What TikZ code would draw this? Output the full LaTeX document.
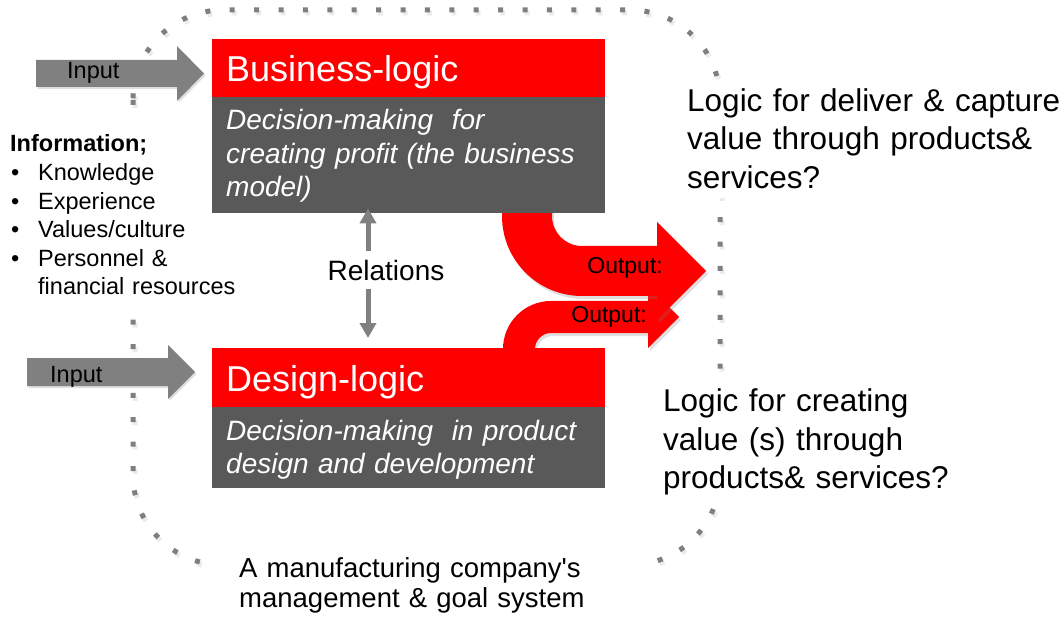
\documentclass[tikz,border=0pt]{standalone}
\usepackage{fontspec}
\setmainfont{Liberation Sans}
\usetikzlibrary{arrows.meta,shadows}
\definecolor{bizred}{HTML}{FF0000}
\definecolor{bodygray}{HTML}{595959}
\definecolor{arrowgray}{HTML}{808080}
\definecolor{dotgray}{HTML}{7F7F7F}
\tikzset{
  headbox/.style={fill=bizred, text=white, font=\fontsize{36}{40}\selectfont,
    minimum width=393pt, text width=365pt, inner xsep=14pt, align=left,
    text height=27pt, text depth=0pt, anchor=north west},
  bodybox/.style={fill=bodygray, minimum width=393pt, inner sep=0pt, anchor=north west},
  bodytext/.style={text=white, font=\fontsize{28}{33.5}\selectfont\itshape,
    inner sep=0pt, text width=375pt, align=left, anchor=base west},
  inarrow/.style={fill=arrowgray, drop shadow={opacity=0.25, shadow xshift=1.5pt, shadow yshift=-2pt}},
  outarrow/.style={fill=bizred, drop shadow={opacity=0.25, shadow xshift=2pt, shadow yshift=-3pt}},
  smalltext/.style={font=\fontsize{23.5}{28.6}\selectfont, inner sep=0pt},
  bigtext/.style={font=\fontsize{31.5}{38.4}\selectfont, fill=white, align=left, anchor=base west},
  dotline/.style={draw=dotgray, line width=5pt, dash pattern=on 5pt off 19.4pt, rounded corners=90pt},
  relarrow/.style={draw=arrowgray, line width=5pt, {Triangle[width=16pt,length=15pt]}-{Triangle[width=16pt,length=15pt]}}
}
\begin{document}
\begin{tikzpicture}[x=1pt,y=-1pt]
\useasboundingbox (0,0) rectangle (1060,620);
% dotted boundary (shadow + dots)
\draw[dotline, draw=black!8, transform canvas={shift={(2pt,-3pt)}}] (133,10) rectangle (720,565);
\draw[dotline] (133,10) rectangle (720,565);
% information block
\node[smalltext, fill=white, anchor=base west, inner xsep=2pt, inner ysep=14pt, text width=240pt, align=left] (info) at (8,152)
  {\textbf{Information;}\\
   \makebox[28pt][l]{\hspace{1pt}•}Knowledge\\
   \makebox[28pt][l]{\hspace{1pt}•}Experience\\
   \makebox[28pt][l]{\hspace{1pt}•}Values/culture\\
   \makebox[28pt][l]{\hspace{1pt}•}Personnel \&\\
   \hspace*{28pt}financial resources};
% input arrows
\fill[inarrow] (36,60) -- (177,60) -- (177,46) -- (204,73.5) -- (177,101) -- (177,87) -- (36,87) -- cycle;
\fill[inarrow] (27,358) -- (168,358) -- (168,345) -- (195,372) -- (168,399) -- (168,386) -- (27,386) -- cycle;
\node[smalltext, anchor=base west] (in1) at (67,79) {Input};
\node[smalltext, anchor=base west] (in2) at (50,382) {Input};
% output arrows
\fill[outarrow] (503,352) -- (503,349) .. controls (503,322.5) and (524.5,301) .. (551,301) -- (648,301) -- (648,286) -- (679,317) -- (648,348) -- (648,333) -- (551,333) .. controls (542.2,333) and (535,340.2) .. (535,349) -- (535,352) -- cycle;
\fill[outarrow] (502,209) -- (502,216) .. controls (502,260.2) and (537.8,296) .. (582,296) -- (657,296) -- (657,320) -- (706,271) -- (657,222) -- (657,246) -- (582,246) .. controls (565.4,246) and (552,232.6) .. (552,216) -- (552,209) -- cycle;
\node[font=\fontsize{23}{27}\selectfont, inner sep=0pt, anchor=base east] (o1) at (663,274) {Output:};
\node[font=\fontsize{23}{27}\selectfont, inner sep=0pt, anchor=base east] (o2) at (647,323) {Output:};
% business logic
\node[headbox, minimum height=58pt] (bh) at (212,39) {Business-logic};
\node[bodybox, minimum height=116pt] (bb) at (212,97) {};
\node[bodytext] (bbt) at (226,130) {Decision-making\ \ for\\creating profit (the business\\model)};
% design logic
\node[headbox, minimum height=59pt] (dh) at (212,348) {Design-logic};
\node[bodybox, minimum height=81pt] (db) at (212,407) {};
\node[bodytext] (dbt) at (226,440) {Decision-making\ \ in product\\design and development};
% relations
\draw[relarrow] ([xshift=156pt, yshift=5pt]bb.south west) -- ([xshift=156pt, yshift=10pt]dh.north west);
\node[fill=white, font=\fontsize{28}{32}\selectfont, inner xsep=4pt, inner ysep=9pt] (rel) at (386,270) {Relations};
% questions
\node[bigtext, inner xsep=4pt, inner ysep=9pt, text width=380pt] (q1) at (683,111.5)
  {Logic for deliver \& capture\\value through products\&\\services?};
\node[bigtext, inner xsep=4pt, inner ysep=8pt, text width=300pt] (q2) at (659,411.7)
  {Logic for creating\\value (s) through\\products\& services?};
% system label
\node[fill=white, font=\fontsize{27.5}{30}\selectfont, anchor=base west, align=left, text width=380pt, inner xsep=22pt, inner ysep=6pt] (sys) at (217,577)
  {A manufacturing company\textquotesingle s\\management \& goal system};
\end{tikzpicture}
\end{document}
